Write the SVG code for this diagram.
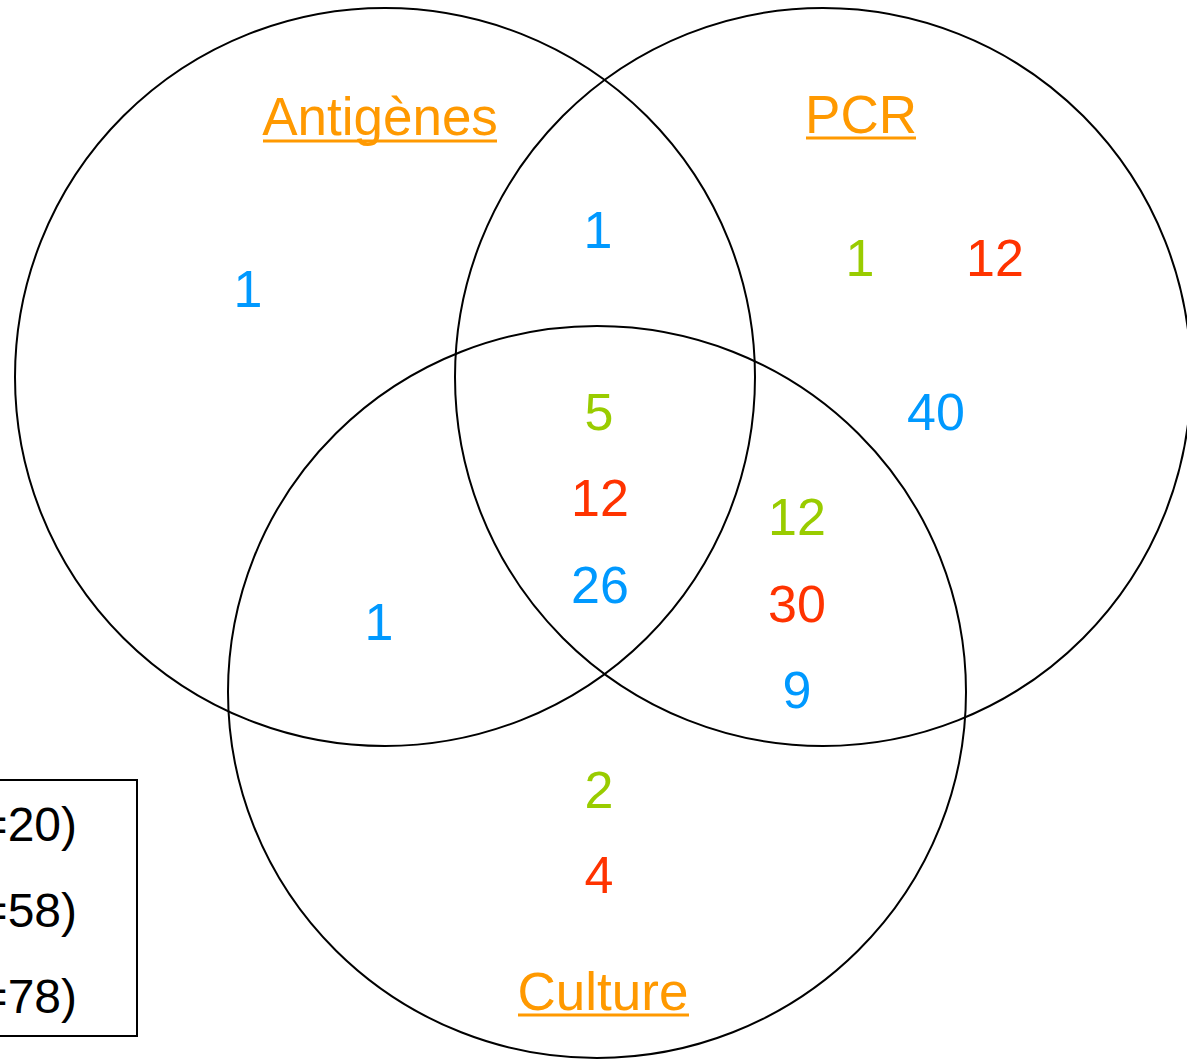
<svg xmlns="http://www.w3.org/2000/svg" width="1187" height="1061" viewBox="0 0 1187 1061">
<style>
.c{fill:none;stroke:#000;stroke-width:2}
.t{font-family:"Liberation Sans",Arial,sans-serif;font-size:53px;fill:#FF9900;text-anchor:middle}
.u{stroke:#FF9900;stroke-width:3}
.n{font-family:"Liberation Sans",Arial,sans-serif;font-size:52px;text-anchor:middle}
.b{fill:#0099FF}.g{fill:#99CC00}.r{fill:#FF3300}
.l{font-family:"Liberation Sans",Arial,sans-serif;font-size:48px;fill:#000;text-anchor:end}
</style>
<rect width="1187" height="1061" fill="#fff"/>
<g id="legend">
<rect x="-10" y="780" width="147" height="256" fill="#fff" stroke="#000" stroke-width="2"/>
<text class="l" x="77" y="841">=20)</text>
<text class="l" x="77" y="927">=58)</text>
<text class="l" x="77" y="1013">=78)</text>
</g>
<g id="antigenes">
<ellipse class="c" cx="385" cy="377" rx="370" ry="369"/>
<text class="t" x="380" y="135">Antigènes</text>
<line class="u" x1="263" y1="141" x2="497" y2="141"/>
</g>
<g id="pcr">
<ellipse class="c" cx="823" cy="377" rx="368" ry="369"/>
<text class="t" x="861" y="133">PCR</text>
<line class="u" x1="806" y1="138" x2="916" y2="138"/>
</g>
<g id="culture">
<ellipse class="c" cx="597" cy="692" rx="369" ry="366"/>
<text class="t" x="603" y="1010">Culture</text>
<line class="u" x1="518" y1="1015" x2="689" y2="1015"/>
</g>
<g id="counts">
<text class="n b" x="248" y="307">1</text>
<text class="n b" x="598" y="248">1</text>
<text class="n g" x="860" y="276">1</text>
<text class="n r" x="995" y="276">12</text>
<text class="n b" x="936" y="430">40</text>
<text class="n g" x="599" y="430">5</text>
<text class="n r" x="600" y="516">12</text>
<text class="n b" x="600" y="603">26</text>
<text class="n g" x="797" y="535">12</text>
<text class="n r" x="797" y="622">30</text>
<text class="n b" x="797" y="708">9</text>
<text class="n b" x="379" y="640">1</text>
<text class="n g" x="599" y="808">2</text>
<text class="n r" x="599" y="893">4</text>
</g>
</svg>
